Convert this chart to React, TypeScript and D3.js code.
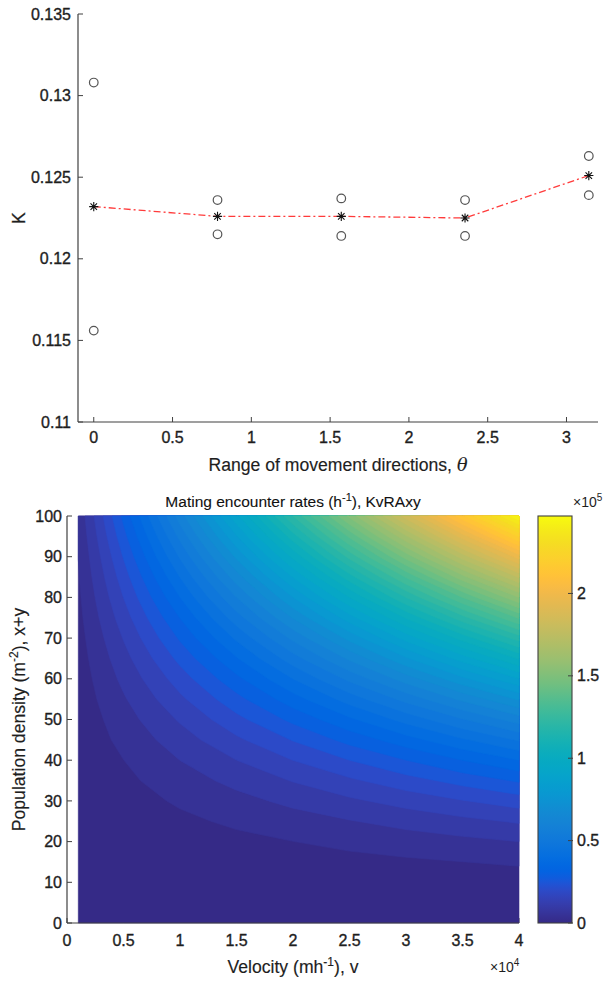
import React from "react";
import * as d3 from "d3";

// ---------- Top panel data ----------
const theta = [0, Math.PI / 4, Math.PI / 2, (3 * Math.PI) / 4, Math.PI];
const kMean = [0.1232, 0.1226, 0.1226, 0.1225, 0.1251];
const kUpper = [0.1308, 0.1236, 0.1237, 0.1236, 0.1263];
const kLower = [0.1156, 0.1215, 0.1214, 0.1214, 0.1239];
const thetaTicks = [0, 0.5, 1, 1.5, 2, 2.5, 3];
const kTicks = [0.11, 0.115, 0.12, 0.125, 0.13, 0.135];

// ---------- Bottom panel data ----------
// velocity in units of 10^4 m/h, density in m^-2, rates in units of 10^5 h^-1
const velocity = [0.1, 0.5, 1, 1.5, 2, 2.5, 3, 3.5, 4];
const density = [0, 5, 10, 15, 20, 25, 30, 35, 40, 45, 50, 55, 60, 65, 70, 75, 80, 85, 90, 95, 100];
const rates = [
  [0, 0, 0, 0, 0, 0, 0, 0, 0],
  [0.000, 0.001, 0.002, 0.002, 0.003, 0.004, 0.005, 0.005, 0.006],
  [0.001, 0.003, 0.006, 0.009, 0.012, 0.015, 0.019, 0.022, 0.025],
  [0.001, 0.007, 0.014, 0.021, 0.028, 0.035, 0.042, 0.049, 0.056],
  [0.002, 0.012, 0.025, 0.037, 0.049, 0.062, 0.074, 0.086, 0.099],
  [0.004, 0.019, 0.039, 0.058, 0.077, 0.096, 0.116, 0.135, 0.154],
  [0.006, 0.028, 0.056, 0.083, 0.111, 0.139, 0.167, 0.195, 0.222],
  [0.008, 0.038, 0.076, 0.113, 0.151, 0.189, 0.227, 0.265, 0.303],
  [0.010, 0.049, 0.099, 0.148, 0.198, 0.247, 0.296, 0.346, 0.395],
  [0.013, 0.063, 0.125, 0.188, 0.250, 0.313, 0.375, 0.438, 0.500],
  [0.015, 0.077, 0.154, 0.232, 0.309, 0.386, 0.463, 0.540, 0.618],
  [0.019, 0.093, 0.187, 0.280, 0.374, 0.467, 0.560, 0.654, 0.747],
  [0.022, 0.111, 0.222, 0.333, 0.445, 0.556, 0.667, 0.778, 0.889],
  [0.026, 0.130, 0.261, 0.391, 0.522, 0.652, 0.783, 0.913, 1.044],
  [0.030, 0.151, 0.303, 0.454, 0.605, 0.756, 0.908, 1.059, 1.210],
  [0.035, 0.174, 0.347, 0.521, 0.695, 0.868, 1.042, 1.216, 1.389],
  [0.040, 0.198, 0.395, 0.593, 0.790, 0.988, 1.186, 1.383, 1.581],
  [0.045, 0.223, 0.446, 0.669, 0.892, 1.115, 1.338, 1.562, 1.785],
  [0.050, 0.250, 0.500, 0.750, 1.000, 1.250, 1.501, 1.751, 2.001],
  [0.056, 0.279, 0.557, 0.836, 1.115, 1.393, 1.672, 1.951, 2.229],
  [0.062, 0.309, 0.618, 0.926, 1.235, 1.544, 1.853, 2.161, 2.470],
];
const velocityTicks = [0, 0.5, 1, 1.5, 2, 2.5, 3, 3.5, 4];
const densityTicks = [0, 10, 20, 30, 40, 50, 60, 70, 80, 90, 100];
const rateTicks = [0, 0.5, 1, 1.5, 2];
const levelCount = 50;

// parula colormap (style)
const parula: number[][] = [
  [0.2081, 0.1663, 0.5292], [0.2116, 0.1898, 0.5777], [0.2123, 0.2138, 0.627], [0.2081, 0.2386, 0.6771],
  [0.1959, 0.2645, 0.7279], [0.1707, 0.2919, 0.7792], [0.1253, 0.3242, 0.8303], [0.0591, 0.3598, 0.8683],
  [0.0117, 0.3875, 0.882], [0.006, 0.4086, 0.8828], [0.0165, 0.4266, 0.8786], [0.0329, 0.443, 0.872],
  [0.0498, 0.4586, 0.8641], [0.0629, 0.4737, 0.8554], [0.0723, 0.4887, 0.8467], [0.0779, 0.504, 0.8384],
  [0.0793, 0.52, 0.8312], [0.0749, 0.5375, 0.8263], [0.0641, 0.557, 0.824], [0.0488, 0.5772, 0.8228],
  [0.0343, 0.5966, 0.8199], [0.0265, 0.6137, 0.8135], [0.0239, 0.6287, 0.8038], [0.0231, 0.6418, 0.7913],
  [0.0228, 0.6535, 0.7768], [0.0267, 0.6642, 0.7607], [0.0384, 0.6743, 0.7436], [0.059, 0.6838, 0.7254],
  [0.0843, 0.6928, 0.7062], [0.1133, 0.7015, 0.6859], [0.1453, 0.7098, 0.6646], [0.1801, 0.7177, 0.6424],
  [0.2178, 0.725, 0.6193], [0.2586, 0.7317, 0.5954], [0.3022, 0.7376, 0.5712], [0.3482, 0.7424, 0.5473],
  [0.3953, 0.7459, 0.5244], [0.442, 0.7481, 0.5033], [0.4871, 0.7491, 0.484], [0.53, 0.7491, 0.4661],
  [0.5709, 0.7485, 0.4494], [0.6099, 0.7473, 0.4337], [0.6473, 0.7456, 0.4188], [0.6834, 0.7435, 0.4044],
  [0.7184, 0.7411, 0.3905], [0.7525, 0.7384, 0.3768], [0.7858, 0.7356, 0.3633], [0.8185, 0.7327, 0.3498],
  [0.8507, 0.7299, 0.336], [0.8824, 0.7274, 0.3217], [0.9139, 0.7258, 0.3063], [0.945, 0.7261, 0.2886],
  [0.9739, 0.7314, 0.2666], [0.9938, 0.7455, 0.2403], [0.999, 0.7653, 0.2164], [0.9955, 0.7861, 0.1967],
  [0.988, 0.8066, 0.1794], [0.9789, 0.8271, 0.1633], [0.9697, 0.8481, 0.1475], [0.9626, 0.8705, 0.1309],
  [0.9589, 0.8949, 0.1132], [0.9598, 0.9218, 0.0948], [0.9661, 0.9514, 0.0755], [0.9763, 0.9831, 0.0538],
];
const parulaHex = parula.map((c) => d3.rgb(c[0] * 255, c[1] * 255, c[2] * 255).formatHex());

const FONT = "'Liberation Sans', Arial, Helvetica, sans-serif";
const TXT = "#1e1e1e";
const AX = "#404040";

export default function App() {
  // ---- top scales ----
  const tx = d3.scaleLinear().domain([-0.1, 3.2]).range([78, 598]);
  const ty = d3.scaleLinear().domain([0.11, 0.135]).range([422, 14]);

  // ---- bottom scales ----
  const hx = d3.scaleLinear().domain([0, 4]).range([67, 519]);
  const hy = d3.scaleLinear().domain([0, 100]).range([923, 516]);

  const nx = velocity.length;
  const ny = density.length;
  const flat = rates.flat();
  const zMax = d3.max(flat) as number;
  const thresholds = d3.range(levelCount).map((i) => (i * zMax) / levelCount);
  const cmap = d3
    .scaleLinear<string>()
    .domain(parulaHex.map((_, i) => (i / (parulaHex.length - 1)) * zMax))
    .range(parulaHex)
    .interpolate(d3.interpolateRgb)
    .clamp(true);
  const contours = d3.contours().size([nx, ny]).thresholds(thresholds)(flat);
  const ix = d3.scaleLinear().domain(d3.range(nx)).range(velocity).clamp(true);
  const iy = d3.scaleLinear().domain(d3.range(ny)).range(density).clamp(true);
  const proj = d3.geoTransform({
    point(x: number, y: number) {
      (this as any).stream.point(hx(ix(x - 0.5)), hy(iy(y - 0.5)));
    },
  });
  const geo = d3.geoPath(proj as any);

  // colorbar
  const cbX0 = 538;
  const cbX1 = 572;
  const cy = d3.scaleLinear().domain([0, zMax]).range([923, 516]);

  const line = d3
    .line<number>()
    .x((_, i) => tx(theta[i]))
    .y((d) => ty(d));

  const starPath = (cx: number, cyy: number, r: number) => {
    const a = r * 0.7071;
    const p = d3.path();
    p.moveTo(cx - r, cyy); p.lineTo(cx + r, cyy);
    p.moveTo(cx, cyy - r); p.lineTo(cx, cyy + r);
    p.moveTo(cx - a, cyy - a); p.lineTo(cx + a, cyy + a);
    p.moveTo(cx - a, cyy + a); p.lineTo(cx + a, cyy - a);
    return p.toString();
  };

  const fmt = (v: number) => String(+v.toFixed(4));
  const tick = { fontSize: 16, fill: TXT, stroke: TXT, strokeWidth: 0.35 } as const;

  return (
    <svg
      width={607}
      height={982}
      style={{ position: "absolute", left: 0, top: 0, background: "#fff" }}
      fontFamily={FONT}
    >
      <defs>
        <linearGradient id="cbgrad" x1="0" y1="1" x2="0" y2="0">
          {parulaHex.map((c, i) => (
            <stop key={i} offset={i / (parulaHex.length - 1)} stopColor={c} />
          ))}
        </linearGradient>
      </defs>

      {/* ================= TOP PANEL ================= */}
      <g>
        <line x1={78} x2={78} y1={ty(0.135)} y2={ty(0.11)} stroke={AX} strokeWidth={1.2} />
        <line x1={78} x2={598} y1={ty(0.11)} y2={ty(0.11)} stroke={AX} strokeWidth={1.2} />
        {kTicks.map((t) => (
          <g key={t}>
            <line x1={78} x2={83} y1={ty(t)} y2={ty(t)} stroke={AX} strokeWidth={1} />
            <text x={71} y={ty(t)} dy="0.35em" textAnchor="end" {...tick}>
              {fmt(t)}
            </text>
          </g>
        ))}
        {thetaTicks.map((t) => (
          <g key={t}>
            <line x1={tx(t)} x2={tx(t)} y1={422} y2={417} stroke={AX} strokeWidth={1} />
            <text x={tx(t)} y={443} textAnchor="middle" {...tick}>
              {fmt(t)}
            </text>
          </g>
        ))}
        <text x={338} y={471} textAnchor="middle" fontSize={17.6} fill={TXT} stroke={TXT} strokeWidth={0.15}>
          Range of movement directions,{" "}
          <tspan fontStyle="italic" fontFamily="'DejaVu Serif', 'Liberation Serif', serif">θ</tspan>
        </text>
        <text transform={`translate(25,${(ty(0.135) + ty(0.11)) / 2}) rotate(-90)`} textAnchor="middle" fontSize={17.6} fill={TXT} stroke={TXT} strokeWidth={0.3}>
          K
        </text>

        <path d={line(kMean) || ""} fill="none" stroke="#ff3b3b" strokeWidth={1.3} strokeDasharray="7 3 2 3" />
        {theta.map((t, i) => (
          <g key={"c" + i}>
            <circle cx={tx(t)} cy={ty(kUpper[i])} r={4.3} fill="none" stroke="#555" strokeWidth={1.2} />
            <circle cx={tx(t)} cy={ty(kLower[i])} r={4.3} fill="none" stroke="#555" strokeWidth={1.2} />
          </g>
        ))}
        {theta.map((t, i) => (
          <path key={"s" + i} d={starPath(tx(t), ty(kMean[i]), 4.6)} stroke="#111" strokeWidth={1.1} fill="none" />
        ))}
      </g>

      {/* ================= BOTTOM PANEL ================= */}
      <g>
        {densityTicks.map((t) => (
          <line key={"yt" + t} x1={67} x2={72} y1={hy(t)} y2={hy(t)} stroke={AX} strokeWidth={1} />
        ))}
        {velocityTicks.map((t) => (
          <line key={"xt" + t} x1={hx(t)} x2={hx(t)} y1={923} y2={918} stroke={AX} strokeWidth={1} />
        ))}

        {contours.map((c, i) => (
          <path
            key={i}
            d={geo(c as any) || ""}
            fill={cmap(c.value)}
            stroke={cmap(c.value)}
            strokeWidth={0.6}
            strokeLinejoin="round"
          />
        ))}

        <line x1={67} x2={67} y1={516} y2={923} stroke={AX} strokeWidth={1.2} />
        <line x1={67} x2={519} y1={923} y2={923} stroke={AX} strokeWidth={1.2} />

        {densityTicks.map((t) => (
          <text key={"yl" + t} x={62} y={hy(t)} dy="0.35em" textAnchor="end" {...tick}>
            {t}
          </text>
        ))}
        {velocityTicks.map((t) => (
          <text key={"xl" + t} x={hx(t)} y={946} textAnchor="middle" {...tick}>
            {fmt(t)}
          </text>
        ))}

        <text x={293} y={507} textAnchor="middle" fontSize={15.5} fill="#111" stroke="#111" strokeWidth={0.1}>
          Mating encounter rates (h
          <tspan dy={-6} fontSize={11}>-1</tspan>
          <tspan dy={6}>), KvRAxy</tspan>
        </text>

        <text x={293} y={973} textAnchor="middle" fontSize={17.6} fill={TXT} stroke={TXT} strokeWidth={0.15}>
          Velocity (mh
          <tspan dy={-7} fontSize={12}>-1</tspan>
          <tspan dy={7}>), v</tspan>
        </text>
        <text x={490} y={972} fontSize={14} fill={TXT}>
          ×10
          <tspan dy={-6} fontSize={10}>4</tspan>
        </text>

        <text transform={`translate(25,${(hy(0) + hy(100)) / 2}) rotate(-90)`} textAnchor="middle" fontSize={17.6} fill={TXT} stroke={TXT} strokeWidth={0.15}>
          Population density (m
          <tspan dy={-7} fontSize={12}>-2</tspan>
          <tspan dy={7}>), x+y</tspan>
        </text>

        <rect x={cbX0} y={516} width={cbX1 - cbX0} height={923 - 516} fill="url(#cbgrad)" stroke={AX} strokeWidth={1.1} />
        {rateTicks.map((t) => (
          <g key={"cb" + t}>
            <line x1={cbX1 - 4} x2={cbX1 + 1} y1={cy(t)} y2={cy(t)} stroke={AX} strokeWidth={1} />
            <text x={cbX1 + 5} y={cy(t)} dy="0.35em" {...tick}>
              {fmt(t)}
            </text>
          </g>
        ))}
        <text x={573} y={507} fontSize={14} fill={TXT}>
          ×10
          <tspan dy={-6} fontSize={10}>5</tspan>
        </text>
      </g>
    </svg>
  );
}
